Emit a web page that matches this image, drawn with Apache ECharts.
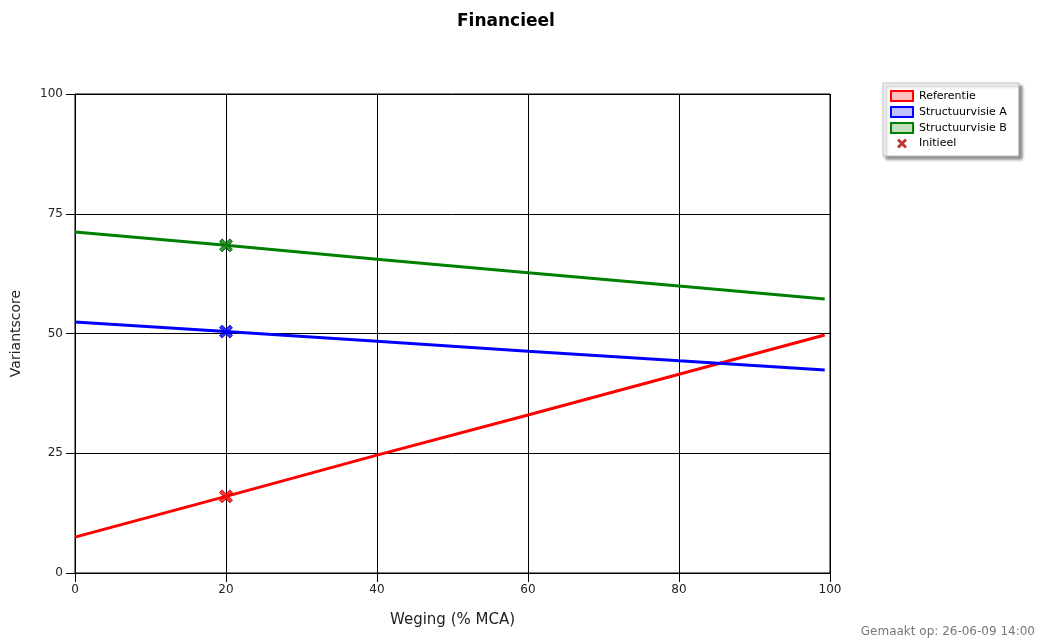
<!DOCTYPE html>
<html>
<head>
<meta charset="utf-8">
<script src="https://cdn.jsdelivr.net/npm/echarts@6/dist/echarts.min.js"></script>
<style>
  html, body { margin: 0; padding: 0; background: #fff; }
  #chart { width: 1041px; height: 642px; }
</style>
</head>
<body>
<div id="chart"></div>
<script>
// Weging (% MCA) sample points
var weging = [0, 20, 40, 60, 80, 99.3];
// Variantscore per variant
var referentie = [7.5, 16.0, 24.6, 33.0, 41.5, 49.7];
var structuurvisieA = [52.4, 50.4, 48.4, 46.3, 44.3, 42.4];
var structuurvisieB = [71.2, 68.4, 65.5, 62.7, 59.9, 57.2];
// Initial weighting and the scores at that weighting
var initieelWeging = 20;
var initieelScores = [16.0, 50.4, 68.4];

var xTicks = [0, 20, 40, 60, 80, 100];
var yTicks = [0, 25, 50, 75, 100];

var crossPath = 'path://M0,2 L2,0 L5,3 L8,0 L10,2 L7,5 L10,8 L8,10 L5,7 L2,10 L0,8 L3,5 Z';
var font = 'Tahoma, "DejaVu Sans", sans-serif';

function pairs(xs, ys) {
  return xs.map(function (x, i) { return [x, ys[i]]; });
}

var chart = echarts.init(document.getElementById('chart'), null, { renderer: 'canvas' });
chart.setOption({
  animation: false,
  backgroundColor: '#ffffff',
  title: {
    text: 'Financieel',
    left: 452,
    top: 8,
    textStyle: { fontFamily: '"DejaVu Sans", Verdana, sans-serif', fontSize: 17, fontWeight: 'bold', color: '#000' }
  },
  grid: {
    left: 75, right: 211, top: 94, bottom: 69,
    show: true, borderColor: '#000', borderWidth: 1, backgroundColor: '#fff'
  },
  legend: {
    orient: 'vertical',
    left: 883, top: 83,
    padding: [7, 12, 7, 7],
    itemWidth: 22, itemHeight: 10, itemGap: 4,
    backgroundColor: '#fff',
    borderColor: '#bbb', borderWidth: 1,
    shadowColor: 'rgba(0,0,0,0.45)', shadowBlur: 3, shadowOffsetX: 3, shadowOffsetY: 3,
    textStyle: { fontFamily: font, fontSize: 11, color: '#000', lineHeight: 11, padding: [0, 0, 0, 1] },
    data: [
      { name: 'Referentie', icon: 'rect', itemStyle: { color: '#ffc0c0', borderColor: '#ff0000', borderWidth: 2 } },
      { name: 'Structuurvisie A', icon: 'rect', itemStyle: { color: '#c0c0ff', borderColor: '#0000ff', borderWidth: 2 } },
      { name: 'Structuurvisie B', icon: 'rect', itemStyle: { color: '#c0e0c0', borderColor: '#008000', borderWidth: 2 } },
      { name: 'Initieel', icon: crossPath, itemStyle: { color: '#b00000', borderColor: '#b00000', borderWidth: 0 } }
    ]
  },
  xAxis: {
    type: 'value', min: 0, max: 100, interval: 20,
    name: 'Weging (% MCA)', nameLocation: 'middle', nameGap: 40,
    nameTextStyle: { fontFamily: font, fontSize: 15, color: '#222' },
    axisLine: { show: true, onZero: false, lineStyle: { color: '#000', width: 1 } },
    axisTick: { show: true, length: 9, lineStyle: { color: '#000' } },
    axisLabel: { fontFamily: font, fontSize: 12, color: '#222', margin: 11,
      formatter: function (v) { return xTicks.indexOf(v) >= 0 ? String(v) : ''; } },
    splitLine: { show: true, lineStyle: { color: '#000', width: 1 } }
  },
  yAxis: {
    type: 'value', min: 0, max: 100, interval: 25,
    name: 'Variantscore', nameLocation: 'middle', nameGap: 52, nameRotate: 90,
    nameTextStyle: { fontFamily: font, fontSize: 14, color: '#222' },
    axisLine: { show: true, onZero: false, lineStyle: { color: '#000', width: 1 } },
    axisTick: { show: true, length: 9, lineStyle: { color: '#000' } },
    axisLabel: { fontFamily: font, fontSize: 12, color: '#222', margin: 12,
      formatter: function (v) { return yTicks.indexOf(v) >= 0 ? String(v) : ''; } },
    splitLine: { show: true, lineStyle: { color: '#000', width: 1 } }
  },
  series: [
    { name: 'Referentie', type: 'line', symbol: 'none', data: pairs(weging, referentie),
      lineStyle: { color: '#ff0000', width: 3 }, itemStyle: { color: '#ff0000' }, z: 3 },
    { name: 'Structuurvisie A', type: 'line', symbol: 'none', data: pairs(weging, structuurvisieA),
      lineStyle: { color: '#0000ff', width: 3 }, itemStyle: { color: '#0000ff' }, z: 3 },
    { name: 'Structuurvisie B', type: 'line', symbol: 'none', data: pairs(weging, structuurvisieB),
      lineStyle: { color: '#008000', width: 3 }, itemStyle: { color: '#008000' }, z: 3 },
    { name: 'Initieel', type: 'scatter', symbol: crossPath, symbolSize: 13, z: 5,
      itemStyle: { color: '#b00000' },
      data: [
        { value: [initieelWeging, initieelScores[0]], itemStyle: { color: '#ff0000', borderColor: '#b00000', borderWidth: 1 } },
        { value: [initieelWeging, initieelScores[1]], itemStyle: { color: '#0000ff', borderColor: '#0000c0', borderWidth: 1 } },
        { value: [initieelWeging, initieelScores[2]], itemStyle: { color: '#008000', borderColor: '#005000', borderWidth: 1 } }
      ] }
  ],
  graphic: [
    { type: 'text', right: 6, bottom: 4,
      style: { text: 'Gemaakt op: 26-06-09 14:00', font: '12px "DejaVu Sans", Verdana, sans-serif', fill: '#777' } }
  ]
});
</script>
</body>
</html>
